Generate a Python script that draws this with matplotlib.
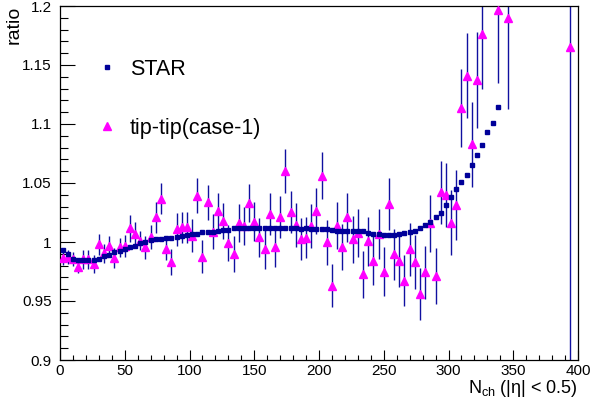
import matplotlib
matplotlib.use('Agg')
import matplotlib.pyplot as plt
from matplotlib.ticker import MultipleLocator, FuncFormatter
from matplotlib.lines import Line2D
import numpy as np

plt.rcParams.update({
    'font.family': ['Liberation Sans', 'DejaVu Sans'],
    'mathtext.fontset': 'custom',
    'mathtext.rm': 'Liberation Sans',
    'mathtext.it': 'Liberation Sans',
})

NAVY = '#000099'
MAGENTA = '#ff00ff'
BAR = '#1010a0'

# STAR ratio, bins of 4 in Nch
star_x = np.arange(2, 339, 4)
star_y = [
    0.9935, 0.9900, 0.9860, 0.9845, 0.9845, 0.9847, 0.9850, 0.9858, 0.9880, 0.9890,
    0.9915, 0.9926, 0.9940, 0.9955, 0.9970, 0.9990, 1.0000, 1.0017, 1.0023, 1.0023,
    1.0030, 1.0034, 1.0040, 1.0053, 1.0060, 1.0068, 1.0068, 1.0085, 1.0085, 1.0085,
    1.0090, 1.0102, 1.0105, 1.0116, 1.0116, 1.0116, 1.0118, 1.0118, 1.0118, 1.0120,
    1.0118, 1.0118, 1.0118, 1.0118, 1.0120, 1.0116, 1.0113, 1.0116, 1.0108, 1.0108,
    1.0108, 1.0108, 1.0102, 1.0096, 1.0093, 1.0093, 1.0093, 1.0096, 1.0090, 1.0074,
    1.0065, 1.0065, 1.0062, 1.0057, 1.0059, 1.0068, 1.0080, 1.0085, 1.0095, 1.0120,
    1.0144, 1.0170, 1.0210, 1.0250, 1.0310, 1.0380, 1.0450, 1.0510, 1.0570, 1.0650,
    1.0740, 1.0820, 1.0930, 1.1010, 1.1140,
]

# tip-tip (case-1)
tip_x = [
    2, 6, 10, 14, 18, 22, 26, 30, 34, 38, 42, 46, 50, 54, 58, 62, 66, 70, 74, 78,
    82, 86, 90, 94, 98, 102, 106, 110, 114, 118, 122, 126, 130, 134, 138, 142, 146, 150, 154, 158,
    162, 166, 170, 174, 178, 182, 186, 190, 194, 198, 202, 206, 210, 214, 218, 222, 226, 230, 234, 238,
    242, 246, 250, 254, 258, 262, 266, 270, 274, 278, 282, 286, 290, 294, 298, 302, 306, 310, 314, 318,
    322, 326, 338, 346, 394,
]
tip_y = [
    0.9862, 0.9876, 0.9853, 0.9790, 0.9853, 0.9853, 0.9814, 0.9980, 0.9904, 0.9966,
    0.9862, 0.9955, 0.9966, 1.0116, 1.0068, 1.0011, 0.9955, 1.0040, 1.0209, 1.0367,
    0.9943, 0.9833, 1.0108, 1.0125, 1.0125, 1.0054, 1.0393, 0.9876, 1.0336, 1.0087,
    1.0266, 1.0178, 0.9994, 0.9898, 1.0158, 1.0136, 1.0333, 1.0172, 1.0040, 0.9941,
    1.0237, 0.9955, 1.0215, 1.0602, 1.0257, 1.0144, 1.0023, 1.0038, 1.0138, 1.0263,
    1.0562, 0.9997, 0.9630, 1.0138, 0.9960, 1.0209, 1.0023, 1.0074, 0.9726, 1.0008,
    0.9842, 1.0068, 0.9748, 1.0322, 0.9898, 0.9839, 0.9672, 0.9938, 0.9830, 0.9557,
    0.9743, 1.0158, 0.9712, 1.0421, 1.0398, 1.0164, 1.0314, 1.1133, 1.1407, 1.0828,
    1.1373, 1.1760, 1.1966, 1.1900, 1.1650,
]
tip_err = [
    0.0060, 0.0060, 0.0060, 0.0056, 0.0078, 0.0078, 0.0075, 0.0092, 0.0082, 0.0085,
    0.0085, 0.0078, 0.0095, 0.0117, 0.0099, 0.0082, 0.0096, 0.0103, 0.0130, 0.0130,
    0.0092, 0.0110, 0.0138, 0.0133, 0.0131, 0.0138, 0.0148, 0.0141, 0.0151, 0.0148,
    0.0153, 0.0155, 0.0151, 0.0153, 0.0161, 0.0158, 0.0162, 0.0165, 0.0164, 0.0167,
    0.0175, 0.0171, 0.0177, 0.0184, 0.0179, 0.0184, 0.0177, 0.0175, 0.0186, 0.0194,
    0.0201, 0.0191, 0.0184, 0.0198, 0.0194, 0.0205, 0.0201, 0.0203, 0.0198, 0.0208,
    0.0205, 0.0212, 0.0208, 0.0223, 0.0216, 0.0219, 0.0215, 0.0226, 0.0226, 0.0222,
    0.0226, 0.0244, 0.0240, 0.0266, 0.0270, 0.0275, 0.0294, 0.0330, 0.0360, 0.0360,
    0.0410, 0.0460, 0.0620, 0.0770, 0.3500,
]

fig = plt.figure(figsize=(5.91, 4.03), dpi=100)
ax = fig.add_axes([60 / 591, 43 / 403, 518 / 591, 354 / 403])

ax.errorbar(tip_x, tip_y, yerr=tip_err, fmt='none', ecolor=BAR, elinewidth=1.0,
            capsize=0, zorder=2)
ax.plot(tip_x, tip_y, ls='none', marker='^', ms=6, color=MAGENTA, mec=MAGENTA, zorder=3)
ax.plot(star_x, star_y, ls='none', marker='s', ms=3.2, color=NAVY, mec=NAVY, zorder=4)

ax.set_xlim(0, 400)
ax.set_ylim(0.9, 1.2)

ax.xaxis.set_major_locator(MultipleLocator(50))
ax.xaxis.set_minor_locator(MultipleLocator(10))
ax.yaxis.set_major_locator(MultipleLocator(0.05))
ax.yaxis.set_minor_locator(MultipleLocator(0.01))
ax.yaxis.set_major_formatter(FuncFormatter(lambda v, p: f'{v:g}'))
ax.tick_params(axis='both', which='both', direction='in', top=False, right=False,
               labelsize=11, width=0.8)
ax.tick_params(axis='y', which='major', length=11, pad=6)
ax.tick_params(axis='y', which='minor', length=5.5)
ax.tick_params(axis='x', which='major', length=7, pad=3)
ax.tick_params(axis='x', which='minor', length=3.5)
for sp in ax.spines.values():
    sp.set_linewidth(0.9)

ax.set_ylabel('ratio', fontsize=14, va='center', ha='right')
ax.yaxis.set_label_coords(-0.089, 1.0)
ax.set_xlabel('N$_{\\rm ch}$ (|η| < 0.5)', fontsize=13, ha='right', va='top')
ax.xaxis.set_label_coords(1.0, -0.052)

handles = [
    Line2D([], [], ls='none', marker='s', ms=3.2, color=NAVY),
    Line2D([], [], ls='none', marker='^', ms=6, color=MAGENTA),
]
ax.legend(handles, ['STAR', 'tip-tip(case-1)'], loc='upper left',
          bbox_to_anchor=(0.037, 0.905), frameon=False, fontsize=15.5,
          handlelength=0.8, handletextpad=0.65, labelspacing=1.75)

fig.savefig('out.png', dpi=100)
